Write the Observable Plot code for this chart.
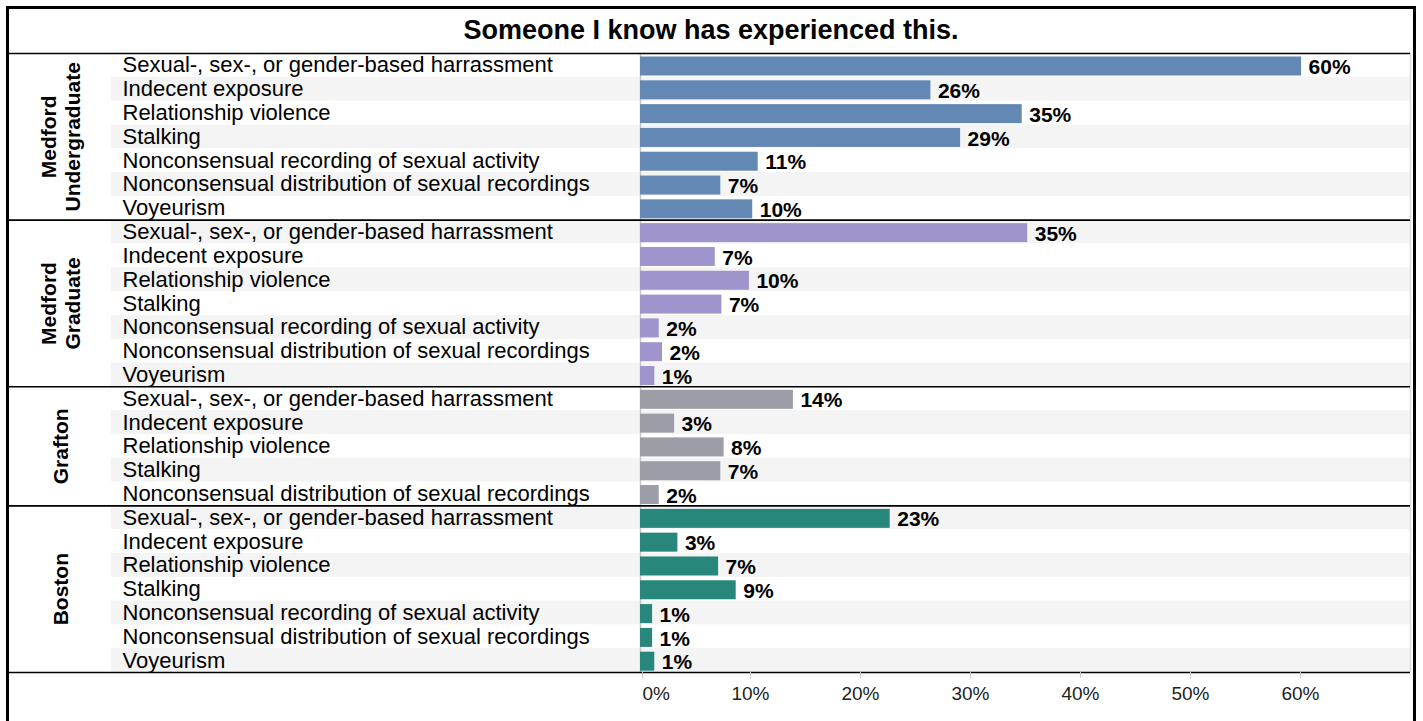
<!DOCTYPE html>
<html><head><meta charset="utf-8">
<script src="https://cdn.jsdelivr.net/npm/d3@7"></script>
<script src="https://cdn.jsdelivr.net/npm/@observablehq/plot@0.6"></script>
<style>
html,body{margin:0;padding:0;background:#fff;overflow:hidden;}
#frame{position:absolute;left:6px;top:6px;width:1404px;height:730px;border:3px solid #000;border-bottom:none;font-family:"Liberation Sans",Arial,sans-serif;}
#title{height:42px;line-height:42px;text-align:center;font-weight:bold;font-size:27px;color:#000;}
#chart svg{display:block;overflow:visible;}
</style></head><body>
<div id="frame"><div id="title">Someone I know has experienced this.</div><div id="chart"></div></div>
<script>
const groupNames = ["Medford\nUndergraduate", "Medford\nGraduate", "Grafton", "Boston"];
const groupColors = ["#6388b4", "#a094cc", "#9b9ea6", "#27877a"];
const itemsFull = [
  "Sexual-, sex-, or gender-based harrassment",
  "Indecent exposure",
  "Relationship violence",
  "Stalking",
  "Nonconsensual recording of sexual activity",
  "Nonconsensual distribution of sexual recordings",
  "Voyeurism"
];
const itemsGrafton = [
  "Sexual-, sex-, or gender-based harrassment",
  "Indecent exposure",
  "Relationship violence",
  "Stalking",
  "Nonconsensual distribution of sexual recordings"
];
const medfordUndergrad = [0.601, 0.264, 0.347, 0.291, 0.107, 0.073, 0.102];
const medfordGrad = [0.352, 0.068, 0.099, 0.074, 0.017, 0.020, 0.013];
const grafton = [0.139, 0.031, 0.076, 0.073, 0.017];
const boston = [0.227, 0.034, 0.071, 0.087, 0.011, 0.011, 0.013];
const xTicks = [0, 0.1, 0.2, 0.3, 0.4, 0.5, 0.6];
const xMax = 0.7;

const groupItems = [itemsFull, itemsFull, itemsGrafton, itemsFull];
const groupValues = [medfordUndergrad, medfordGrad, grafton, boston];
const rows = [];
groupNames.forEach((g, gi) => {
  groupItems[gi].forEach((item, k) => {
    rows.push({group: g, item, value: groupValues[gi][k], key: g + "|" + item, i: rows.length, k, n: groupItems[gi].length});
  });
});
const groupFirst = rows.filter(d => d.k === 0);
const groupMid = rows.filter(d => d.k === Math.floor(d.n / 2));
const lastRow = rows.slice(-1);
const pct = d => Math.round(d * 100) + "%";
const bw = 619 / rows.length;

const chart = Plot.plot({
  width: 1404, height: 670,
  marginLeft: 631, marginRight: 3, marginTop: 2, marginBottom: 49,
  style: {fontFamily: "'Liberation Sans', Arial, sans-serif", background: "transparent", overflow: "visible"},
  x: {domain: [0, xMax], axis: null},
  y: {domain: rows.map(d => d.key), padding: 0, round: false, axis: null},
  color: {domain: groupNames, range: groupColors},
  marks: [
    Plot.barX(rows.filter(d => d.i % 2 === 1), {x1: 0, x2: xMax, y: "key", fill: "#f4f4f4", insetLeft: -529}),
    Plot.ruleX([xMax], {stroke: "#dcdcdc", strokeWidth: 1.5}),
    Plot.ruleX([0], {stroke: "#c8c8c8", strokeWidth: 1.5}),
    Plot.barX(rows, {x: "value", y: "key", fill: "group", insetTop: 3.5, insetBottom: 1.3}),
    Plot.text(rows, {y: "key", text: "item", frameAnchor: "left", dx: -518, textAnchor: "start", fontSize: 22, fill: "#000"}),
    Plot.text(rows, {x: "value", y: "key", text: d => pct(d.value), dx: 7, dy: 2, textAnchor: "start", fontSize: 21, fontWeight: "bold", fill: "#000"}),
    Plot.text(groupMid, {y: "key", text: d => d.group, frameAnchor: "left", dx: -580, rotate: -90, textAnchor: "middle", fontSize: 21, fontWeight: "bold", lineHeight: 1.15, fill: "#000"}),
    Plot.ruleY(groupFirst, {y: "key", dy: -bw / 2, insetLeft: -631, stroke: "#000", strokeWidth: 1.6}),
    Plot.ruleY(lastRow, {y: "key", dy: bw / 2, insetLeft: -631, stroke: "#000", strokeWidth: 1.6}),
    Plot.axisX(xTicks.slice(1), {tickSize: 6, tickPadding: 8, stroke: "#cccccc", fill: "#222", fontSize: 19, tickFormat: pct, label: null}),
    Plot.axisX(xTicks.slice(0, 1), {tickSize: 6, tickPadding: 8, stroke: "#cccccc", fill: "#222", fontSize: 19, tickFormat: pct, textAnchor: "start", dx: 2, label: null})
  ]
});
document.getElementById("chart").appendChild(chart);
</script>
</body></html>
